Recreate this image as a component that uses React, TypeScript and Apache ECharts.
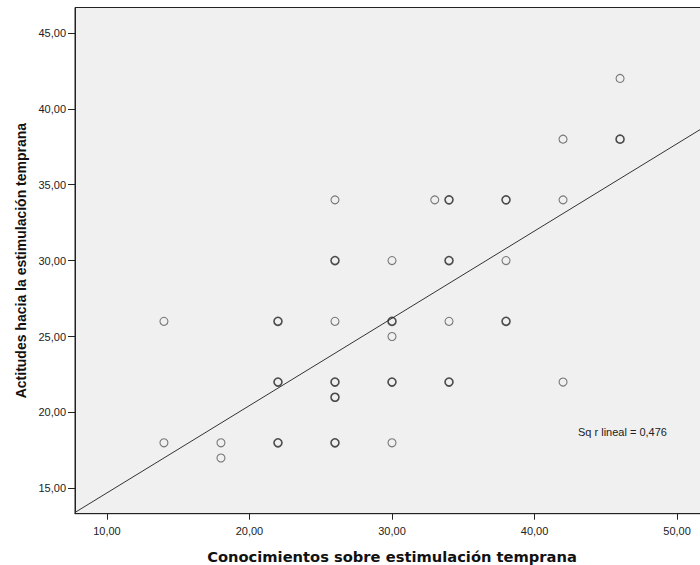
import React, { useEffect, useRef } from 'react';
import * as echarts from 'echarts';

// Conocimientos (x), Actitudes (y), and how many cases share each point (overlap)
const knowledge = [14, 14, 18, 18, 22, 22, 22, 26, 26, 26, 26, 26, 26, 30, 30, 30, 30, 30, 33, 34, 34, 34, 34, 38, 38, 38, 42, 42, 42, 46, 46];
const attitude = [26, 18, 18, 17, 26, 22, 18, 34, 30, 26, 22, 21, 18, 30, 26, 25, 22, 18, 34, 34, 30, 26, 22, 34, 30, 26, 38, 34, 22, 42, 38];
const overlap = [1, 1, 1, 1, 2, 2, 2, 1, 2, 1, 2, 2, 2, 1, 2, 1, 2, 1, 1, 2, 2, 1, 2, 2, 1, 2, 1, 1, 1, 1, 2];

const xTicks = [10, 20, 30, 40, 50];
const yTicks = [15, 20, 25, 30, 35, 40, 45];
const xRange = [7.76, 52.24];
const yRange = [13.33, 46.67];

const fitIntercept = 8.95;
const fitSlope = 0.575;
const r2Label = 'Sq r lineal = 0,476';
const xTitle = 'Conocimientos sobre estimulación temprana';
const yTitle = 'Actitudes hacia la estimulación temprana';

const fmt = (v: number) => v.toFixed(2).replace('.', ',');

export default function App() {
  const ref = useRef<HTMLDivElement>(null);
  useEffect(() => {
    document.body.style.margin = '0';
    if (!ref.current) return;
    const chart = echarts.init(ref.current, null, { renderer: 'svg' });
    const points = knowledge.map((x, i) => ({
      value: [x, attitude[i]],
      itemStyle: {
        borderColor: overlap[i] > 1 ? '#222222' : '#5a5a5a',
        borderWidth: overlap[i] > 1 ? 1.6 : 1.1,
      },
    }));
    const fitLine = xRange.map((x) => [x, fitIntercept + fitSlope * x]);
    const labelFont = { fontFamily: 'Liberation Sans, Arial, sans-serif', fontSize: 11, color: '#222' };
    chart.setOption({
      animation: false,
      backgroundColor: '#ffffff',
      grid: {
        left: 75,
        right: -9,
        top: 7.5,
        bottom: 51.3,
        outerBoundsMode: 'none',
        containLabel: false,
        show: true,
        backgroundColor: '#f0f0f0',
        borderColor: '#222',
        borderWidth: 1,
      },
      xAxis: {
        type: 'value',
        min: xRange[0],
        max: xRange[1],
        splitLine: { show: false },
        axisLine: { show: true, onZero: false, lineStyle: { color: '#222', width: 1 } },
        axisTick: { show: true, customValues: xTicks, length: 6, lineStyle: { color: '#222' } },
        axisLabel: { customValues: xTicks, formatter: fmt, margin: 12, ...labelFont },
        name: xTitle,
        nameLocation: 'middle',
        nameGap: 35,
        nameTextStyle: { fontFamily: 'DejaVu Sans, sans-serif', fontWeight: 'bold', fontSize: 14.7, color: '#111' },
      },
      yAxis: {
        type: 'value',
        min: yRange[0],
        max: yRange[1],
        splitLine: { show: false },
        axisLine: { show: true, onZero: false, lineStyle: { color: '#222', width: 1 } },
        axisTick: { show: true, customValues: yTicks, length: 7, lineStyle: { color: '#222' } },
        axisLabel: { customValues: yTicks, formatter: fmt, margin: 9, ...labelFont },
        name: yTitle,
        nameLocation: 'middle',
        nameGap: 47,
        nameTextStyle: { fontFamily: 'Liberation Sans, Arial, sans-serif', fontWeight: 'bold', fontSize: 14, color: '#111' },
      },
      series: [
        {
          type: 'line',
          data: fitLine,
          symbol: 'none',
          lineStyle: { color: '#333', width: 1 },
          silent: true,
          z: 1,
        },
        {
          type: 'scatter',
          data: points,
          symbol: 'circle',
          symbolSize: 8,
          itemStyle: { color: 'rgba(0,0,0,0)' },
          z: 2,
        },
      ],
      graphic: [
        {
          type: 'text',
          left: 578,
          top: 426,
          style: { text: r2Label, font: '11px "Liberation Sans", Arial, sans-serif', fill: '#222' },
        },
      ],
    });
    return () => chart.dispose();
  }, []);
  return <div ref={ref} style={{ width: 700, height: 565 }} />;
}
